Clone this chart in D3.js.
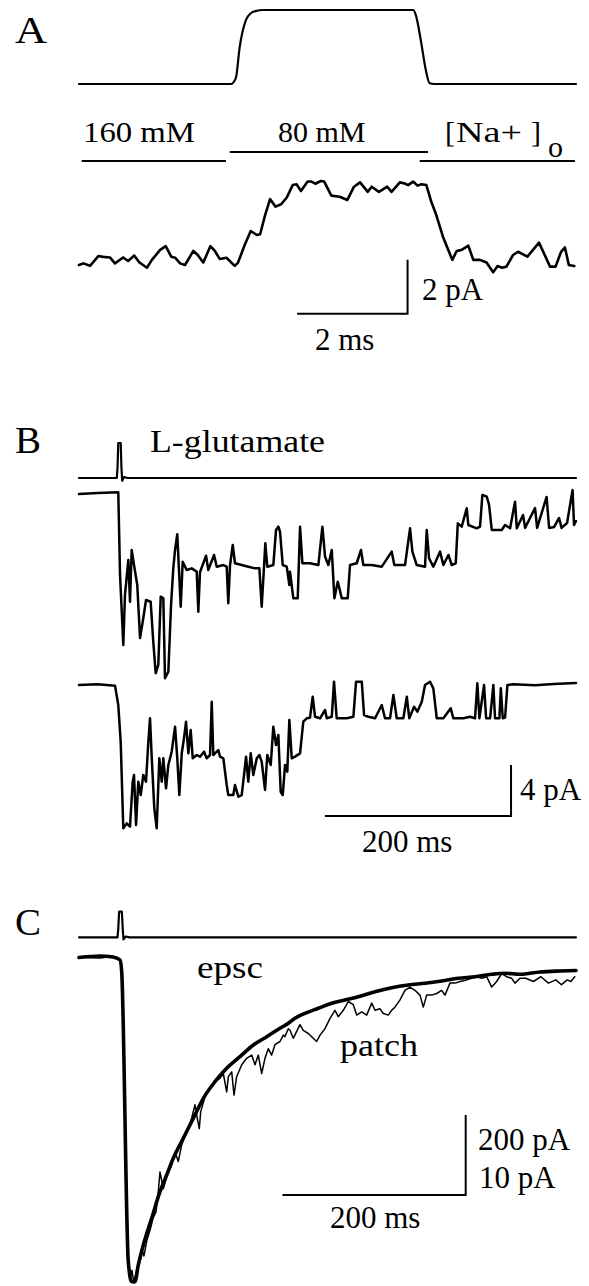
<!DOCTYPE html>
<html>
<head>
<meta charset="utf-8">
<script src="https://cdn.jsdelivr.net/npm/d3@7"></script>
<style>
  body { margin: 0; background: #fff; }
  svg { display: block; background: #fff; }
  text { font-family: "Liberation Serif", "DejaVu Serif", serif; fill: #000; }
  .trace { fill: none; stroke: #000; stroke-linejoin: round; stroke-linecap: round; }
  .bar { fill: none; stroke: #000; stroke-width: 2; }
</style>
</head>
<body>
<svg width="589" height="1286"></svg>
<script>
// A: solution exchange (relative, 0 = 160 mM, 1 = 80 mM) and patch current (pA) vs time (ms)
const stepA = [[0,0],[2.75,0],[2.84,0.08],[2.91,0.5],[3.02,0.86],[3.1,0.95],[3.22,0.99],[3.33,1],
  [6.05,1],[6.1,0.93],[6.19,0.59],[6.28,0.19],[6.35,0.01],[6.43,0],[9,0]]

const currentA = [[0,0],[0.08,0.06],[0.2,-0.03],[0.35,0.33],[0.44,0.3],[0.56,0.28],[0.65,0.06],[0.8,0.28],
  [0.89,0.15],[1.0,0.35],[1.09,0.1],[1.23,-0.1],[1.32,0.19],[1.47,0.56],[1.57,0.7],[1.67,0.31],[1.74,0.27],
  [1.83,0.06],[1.92,0],[2.07,0.52],[2.15,0.37],[2.25,0.09],[2.38,0.7],[2.46,0.52],[2.55,0.22],[2.67,0.27],
  [2.82,-0.03],[2.88,0.09],[3.0,0.74],[3.11,1.26],[3.22,1.11],[3.28,1.14],[3.37,1.85],[3.46,2.44],[3.56,2.16],
  [3.66,2.25],[3.76,2.49],[3.87,2.96],[3.94,2.99],[4.02,2.74],[4.14,3.09],[4.21,3.09],[4.28,3.01],[4.38,3.11],
  [4.44,3.09],[4.57,2.57],[4.72,2.53],[4.86,2.41],[4.98,2.9],[5.09,3.06],[5.23,2.71],[5.3,2.9],[5.43,2.71],
  [5.49,2.78],[5.58,2.9],[5.66,2.71],[5.81,3.06],[5.9,3.02],[5.96,2.96],[6.05,3.09],[6.13,2.94],[6.2,2.99],
  [6.29,2.96],[6.38,2.34],[6.47,1.85],[6.59,1.05],[6.76,0.19],[6.84,0.52],[6.93,0.56],[7.05,0.72],[7.14,0.19],
  [7.26,0.19],[7.38,0.09],[7.5,-0.27],[7.58,-0.04],[7.66,-0.1],[7.74,-0.06],[7.86,0.37],[7.95,0.49],[8.12,0.31],
  [8.33,0.83],[8.53,-0.06],[8.63,-0.06],[8.73,0.49],[8.8,0.65],[8.87,0],[8.97,-0.04]]

// [Na+]o bars under the step (ms)
const naSegments = [
  {label: "160 mM", t0: 0.05, t1: 2.66, level: 0},
  {label: "80 mM", t0: 2.73, t1: 6.32, level: 1},
  {label: "[Na+]o", t0: 6.17, t1: 8.98, level: 0}
]

// B: L-glutamate pulse (a.u.) and two patch records (pA) vs time (ms)
const pulseB = [[0,0],[40.6,0],[41.4,0.3],[42.2,1],[44.8,1],[45.6,0.3],[46.4,-0.08],[48.5,0.03],[52,0],[534,0]]

const traceB1 = [[0,-0.04],[20,0.03],[42.2,0.09],[44.1,-6.39],[47.6,-11.88],[49.4,-7.96],[53,-5.22],[54.8,-8.49],
  [56.6,-4.43],[59.1,-5.61],[62.6,-7.18],[65.6,-11.33],[69.1,-9.76],[72,-8.35],[77,-8.49],[79.8,-11.62],
  [82.4,-14.1],[85.2,-13.45],[87.8,-8.09],[90.6,-8.22],[92.4,-14.49],[96,-13.98],[98.9,-8.75],[101.3,-5.87],
  [103.2,-4.43],[105.6,-3.2],[107.5,-6.13],[109.3,-8.88],[111.4,-5.35],[115.7,-6.0],[121.1,-5.87],[126.5,-6.13],
  [128.2,-9.27],[130,-6.18],[136.5,-4.88],[138.9,-6.0],[145.1,-4.82],[148,-5.74],[155.1,-5.61],[158.7,-5.74],
  [160.4,-8.61],[162.3,-5.61],[165.2,-4.04],[167.6,-5.47],[174.8,-5.61],[181.9,-5.74],[189.1,-5.87],[193.8,-5.87],
  [196.3,-8.88],[198.8,-5.74],[200.2,-3.91],[202.3,-5.74],[208.8,-5.61],[211.7,-2.86],[214.2,-2.6],[216,-3.0],
  [218.9,-5.61],[223.2,-5.74],[226,-7.18],[226.7,-6.13],[230.3,-8.22],[235,-8.22],[237.5,-2.6],[240,-5.47],
  [248.2,-5.47],[257.2,-5.61],[261.5,-2.6],[264.4,-4.96],[267.9,-5.61],[271.6,-4.43],[274.4,-8.22],[278,-6.92],
  [279.7,-7.4],[282.3,-8.22],[288.7,-8.22],[291.2,-5.61],[298.4,-5.47],[303,-4.43],[305.5,-5.61],[314.5,-5.61],
  [325.3,-5.74],[336,-4.56],[338.8,-5.61],[350.3,-5.61],[355.7,-2.73],[358.2,-4.56],[362.9,-5.61],[371.8,-5.74],
  [373.6,-2.86],[376.1,-5.08],[380.7,-5.74],[387.9,-4.56],[391.5,-5.61],[396.9,-4.82],[400.5,-5.61],[404.8,-5.47],
  [407,-2.34],[411.2,-2.6],[416.6,-1.16],[418.3,-2.47],[427.4,-2.73],[430.9,-2.6],[433.4,-0.12],[438.1,-0.25],
  [440.6,-0.9],[443.5,-2.86],[454.2,-2.86],[457.8,-2.47],[463.2,-2.73],[468.5,-0.64],[470.4,-2.73],[477.1,-1.69],
  [479.3,-2.7],[490,-1.14],[492.2,-2.7],[502.4,-0.27],[505.1,-2.7],[510.4,-2.63],[515.8,-1.92],[518.5,-2.7],
  [524.4,-2.31],[530.3,0.27],[531.9,-2.47],[534,-2.16]]

const traceB2 = [[0,-0.04],[20,0.02],[38.7,-0.09],[42.2,-1.61],[44.8,-4.49],[47.6,-11.28],[51.3,-10.89],[54.8,-11.15],
  [57.7,-7.62],[59.1,-7.1],[61.3,-11.02],[63.7,-7.62],[66.3,-8.67],[69.1,-7.1],[72,-7.62],[74.5,-4.49],[76.3,-2.65],
  [78.1,-5.66],[80.9,-9.71],[83.5,-11.28],[86.3,-5.79],[88.9,-7.62],[90.6,-5.79],[93.5,-8.14],[96,-6.31],
  [99.6,-5.27],[103.2,-3.31],[105.6,-5.79],[107.8,-8.67],[110.4,-5.4],[112.8,-4.22],[115,-2.92],[117.5,-5.4],
  [120,-3.57],[122.2,-5.79],[126.5,-5.53],[130,-5.66],[134.3,-5.27],[137.2,-5.79],[140.8,-5.53],[142.6,-1.35],
  [144.3,-5.53],[149.7,-5.14],[151.5,-5.66],[155.1,-5.79],[158.7,-7.88],[160.4,-8.67],[165.8,-8.67],[167.6,-7.88],
  [171.2,-8.8],[174.8,-8.67],[177.3,-7.1],[179.5,-5.66],[181.9,-7.62],[184.5,-5.4],[187.3,-7.1],[191,-5.79],
  [193.8,-5.53],[196.3,-6.05],[199.9,-8.27],[202.3,-5.53],[206,-6.31],[208.8,-3.31],[211.7,-4.75],[214.2,-3.96],
  [216.7,-8.41],[218.9,-8.67],[221.4,-6.31],[223.8,-6.84],[226,-2.78],[228.6,-5.79],[232.1,-5.66],[237.5,-5.4],
  [241,-2.92],[244.7,-2.65],[248.2,-2.6],[251.1,-0.96],[253.6,-2.53],[259,-2.65],[264.4,-2.0],[266.2,-2.65],
  [271.6,-2.53],[274,0.22],[276.9,-2.65],[287.7,-2.65],[294.8,-2.53],[297.7,0.22],[303.8,0.22],[306.3,-2.39],
  [310.9,-2.53],[318.1,-2.65],[325.3,-1.61],[328.8,-2.65],[334.2,-2.65],[337.8,-0.82],[341.4,-2.65],[348.5,-2.65],
  [352.2,-0.96],[354.9,-2.65],[360,-1.74],[363.5,-2.13],[368.3,-1.35],[371.8,-0.04],[377.2,0.22],[380.7,-0.3],
  [384.4,-2.65],[391.5,-2.65],[399.4,-1.87],[402.2,-2.65],[413,-2.65],[420.2,-2.53],[425.5,-2.65],[428,0.09],
  [430.2,-2.65],[435.2,-0.04],[437.4,-2.65],[441.7,-2.65],[445.2,-0.04],[447,-2.65],[451.7,-2.65],[453.2,-0.3],
  [455.3,-2.65],[457.8,-2.6],[460.3,-0.04],[466.7,0.02],[490,-0.05],[510,0.04],[534,0.12]]

// C: L-glutamate pulse (a.u.), synaptic current (epsc, pA) and patch current (pA) vs time (ms)
const pulseC = [[0,0],[42,0],[42.8,0.3],[43.8,1],[46.8,1],[47.8,0.3],[48.6,-0.08],[51,0.03],[55,0],[542.5,0]]

const epsc = [[0,0],[22.9,3.75],[37.1,1.25],[44.8,-6.25],[46.6,-35.5],[53.8,-760.5],[57.5,-810.5],[61.1,-810.5],
  [64.7,-768.8],[70.2,-718.8],[79.4,-651.3],[88.4,-585.5],[95.7,-543.8],[102.9,-502],[113.8,-452],[124.8,-402],
  [135.7,-352],[148.4,-310.5],[161.2,-277],[175.7,-248],[190.3,-218.8],[204.9,-198],[219.4,-177],[228.5,-164.5],
  [235.8,-152],[246.7,-139.5],[261.2,-127],[275.8,-114.5],[290.3,-106.3],[304.9,-98],[323.1,-85.5],[341.3,-75.5],
  [359.4,-68.8],[377.7,-64.5],[395.9,-58.8],[414,-52],[432.2,-48],[450.5,-42],[465,-39.5],[481.4,-42],
  [503.2,-36.3],[525,-33.8],[542.5,-32.5]]

const patch = [[0,0],[22.9,-0.06],[37.1,0.13],[44.8,-0.31],[46.6,-1.78],[53.8,-38.0],[55.6,-40.3],[57.8,-39.1],
  [60,-40.7],[63.3,-38.8],[66.6,-38.0],[68.8,-36.6],[70.9,-37.3],[74.2,-35.3],[77.5,-34.1],[80.8,-32.6],[84,-31.8],
  [86.2,-29.7],[88.4,-26.8],[92,-28.9],[96.4,-27.2],[101.2,-25.9],[104.8,-24.3],[108.4,-25.5],[112.1,-23.4],
  [117.6,-21.8],[123,-20.1],[126.6,-18.4],[129.1,-20.1],[131.3,-21.4],[132.8,-19.3],[137.5,-17.4],[143,-16.4],
  [148.4,-15.5],[153.9,-15.1],[157.5,-14.5],[161.2,-16.8],[163,-14.9],[166.7,-14.3],[169.2,-17.2],[172.1,-14.9],
  [177.6,-13.4],[183,-12.6],[188.5,-12.2],[192.1,-13.4],[195.7,-12.2],[199.4,-14.5],[203,-12.6],[206.6,-11.4],
  [210.3,-12.2],[213.9,-10.9],[219.4,-10.5],[223,-9.7],[224.7,-9.9],[228.5,-8.9],[230.3,-9.1],[233.9,-10.1],
  [241.2,-8.4],[244.8,-9.1],[250.3,-9.5],[255.7,-10.1],[259.4,-10.5],[263.1,-9.7],[268.5,-8.9],[274,-7.6],
  [279.4,-6.6],[283,-7.4],[288.5,-6.6],[293.9,-5.5],[299.4,-5.9],[303.1,-7.2],[308.6,-6.8],[314,-7.2],[319.5,-5.7],
  [323.1,-6.6],[328.5,-6.4],[332.1,-7.0],[337.6,-7.2],[341.3,-6.6],[344.9,-6.2],[350.4,-5.3],[355.8,-4.1],
  [361.3,-3.7],[366.7,-4.1],[372.2,-4.7],[375.8,-6.2],[379.5,-4.7],[385,-4.7],[390.4,-4.5],[395.9,-4.1],
  [399.5,-4.7],[404.9,-3.2],[410.4,-3.2],[415.9,-3.0],[423.2,-2.8],[428.6,-2.6],[434.1,-2.4],[439.5,-2.6],
  [445,-2.4],[450.5,-3.7],[455.9,-3.0],[461.4,-2.0],[466.8,-2.4],[472.3,-2.6],[475.9,-3.2],[481.4,-2.6],
  [487.7,-2.6],[496,-3.0],[504.2,-2.4],[512.4,-3.2],[520.5,-2.8],[526.6,-3.4],[532.9,-2.8],[536.9,-3.0],[541.1,-2.4]]

// scale bars: corner position (ms, pA) and lengths
const barA = {t: 5.95, v: -1.81, ms: 2, pA: 2, xLabel: "2 ms", yLabels: ["2 pA"]}
const barB = {t: 464.2, v: -10.31, ms: 200, pA: 4, xLabel: "200 ms", yLabels: ["4 pA"]}
const barC = {t: 422.1, v: -593.75, ms: 200, pA: 200, xLabel: "200 ms", yLabels: ["200 pA", "10 pA"]}

const svg = d3.select("svg")

// scales
const xA = d3.scaleLinear().domain([0, 9]).range([79, 576])
const yStepA = d3.scaleLinear().domain([0, 1]).range([84, 10])
const yA = d3.scaleLinear().domain([0, 2]).range([265, 211])

const xB = d3.scaleLinear().domain([0, 534]).range([79, 576])
const yPulseB = d3.scaleLinear().domain([0, 1]).range([478, 443])
const yB1 = d3.scaleLinear().domain([0, -4]).range([493.5, 544.5])
const yB2 = d3.scaleLinear().domain([0, -4]).range([684.5, 735.5])

const xC = d3.scaleLinear().domain([0, 542.5]).range([79, 576])
const yPulseC = d3.scaleLinear().domain([0, 1]).range([937.3, 911.7])
const yEpsc = d3.scaleLinear().domain([0, -200]).range([957.5, 1037.5])
const yPatch = d3.scaleLinear().domain([0, -10]).range([957.5, 1037.5])

function drawTrace(data, x, y, width, curve) {
    const line = d3.line()
        .x(d => x(d[0]))
        .y(d => y(d[1]))
        .curve(curve || d3.curveLinear)
    svg.append("path")
        .datum(data)
        .attr("class", "trace")
        .attr("d", line)
        .attr("stroke-width", width)
}

function label(x, y, str, size, width) {
    const t = svg.append("text")
        .attr("x", x)
        .attr("y", y)
        .style("font-size", size + "px")
        .text(str)
    if (width) t.attr("textLength", width).attr("lengthAdjust", "spacingAndGlyphs")
    return t
}

function drawBar(bar, x, y, labelPos) {
    const x1 = x(bar.t), x0 = x(bar.t - bar.ms)
    const yb = y(bar.v), yt = y(bar.v + bar.pA)
    svg.append("path")
        .attr("class", "bar")
        .attr("d", `M${x0},${yb}H${x1}V${yt}`)
    label(labelPos.xl[0], labelPos.xl[1], bar.xLabel, 31)
    bar.yLabels.forEach((s, i) => label(labelPos.yl[i][0], labelPos.yl[i][1], s, 31))
}

// panel letters
label(15, 43, "A", 37, 32)
label(15, 453, "B", 37, 26)
label(15, 935, "C", 37, 26)

// ---- A ----
drawTrace(stepA, xA, yStepA, 2.2, d3.curveMonotoneX)

const underY = [161, 152]
svg.selectAll("line.na")
    .data(naSegments)
    .enter()
    .append("line")
    .attr("class", "na")
    .attr("x1", d => xA(d.t0))
    .attr("x2", d => xA(d.t1))
    .attr("y1", d => underY[d.level])
    .attr("y2", d => underY[d.level])
    .attr("stroke", "#000")
    .attr("stroke-width", 2)

label(83, 142, naSegments[0].label, 30, 112)
label(278, 142, naSegments[1].label, 30)
label(445, 142, "[", 30)
label(456, 142, "Na+", 30, 66)
label(531, 142, "]", 30)
label(548, 157, "o", 30)

drawTrace(currentA, xA, yA, 2.6)
drawBar(barA, xA, yA, {xl: [315, 350], yl: [[422, 300]]})

// ---- B ----
label(150, 452, "L-glutamate", 31, 175)
drawTrace(pulseB, xB, yPulseB, 2.2)
drawTrace(traceB1, xB, yB1, 2.5)
drawTrace(traceB2, xB, yB2, 2.5)
drawBar(barB, xB, yB2, {xl: [362, 852], yl: [[520, 800]]})

// ---- C ----
drawTrace(pulseC, xC, yPulseC, 2.2)
drawTrace(patch, xC, yPatch, 1.5)
drawTrace(epsc, xC, yEpsc, 3.6, d3.curveMonotoneX)
label(197, 978, "epsc", 31, 66)
label(340, 1056, "patch", 31, 78)
drawBar(barC, xC, yEpsc, {xl: [330, 1228], yl: [[478, 1150], [479, 1188]]})
</script>
</body>
</html>
